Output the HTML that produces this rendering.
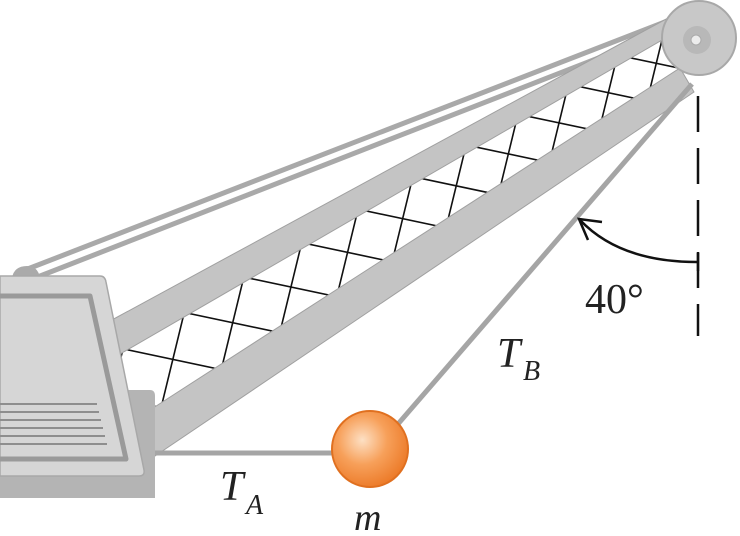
<!DOCTYPE html>
<html><head><style>
html,body{margin:0;padding:0;background:#fff;}
svg{display:block;}
text{font-family:"Liberation Serif",serif;fill:#222;}
</style></head><body>
<svg id="s" width="740" height="536" viewBox="0 0 740 536" xmlns="http://www.w3.org/2000/svg">
<defs>
<radialGradient id="ball" cx="0.4" cy="0.38" r="0.65">
<stop offset="0" stop-color="#fde0c4"/><stop offset="0.5" stop-color="#f7a05a"/><stop offset="1" stop-color="#ec7a28"/>
</radialGradient>
<clipPath id="lat"><polygon points="100,364 662,40 680,68 140,416"/></clipPath>
</defs>
<!-- cables -->
<line x1="25" y1="270" x2="670" y2="20" stroke="#a9a9a9" stroke-width="5"/>
<line x1="35" y1="278" x2="670" y2="30" stroke="#a9a9a9" stroke-width="5"/>
<!-- lattice -->
<g id="lattice" clip-path="url(#lat)" stroke="#111" stroke-width="1.6"></g>
<!-- upper bar -->
<polygon points="110,321 668,18 662,40 115,357" fill="#c4c4c4" stroke="#a0a0a0" stroke-width="1"/>
<!-- lower bar -->
<polygon points="150,410 680,68 694,92 155,456" fill="#c4c4c4" stroke="#a0a0a0" stroke-width="1"/>
<!-- TB rope -->
<line x1="692" y1="84" x2="398" y2="424" stroke="#a5a5a5" stroke-width="5"/>
<!-- TA rope -->
<line x1="150" y1="453" x2="335" y2="453" stroke="#a5a5a5" stroke-width="5"/>
<!-- pulley -->
<circle cx="699" cy="38" r="37" fill="#c8c8c8" stroke="#a8a8a8" stroke-width="2"/>
<circle cx="697" cy="40" r="14" fill="#b8b8b8"/>
<circle cx="696" cy="40" r="5" fill="#ececec" stroke="#aaa"/>
<!-- back box -->
<path d="M0,390 H150 Q155,390 155,396 V498 H0 Z" fill="#b4b4b4"/>
<!-- cabin top knob -->
<path d="M12,278 Q14,266 27,266 Q38,266 40,278 Z" fill="#aaa"/>
<!-- cabin -->
<path d="M0,276 H100 Q105,276 106,282 L144,470 Q145,476 139,476 H0 Z" fill="#d6d6d6" stroke="#a8a8a8" stroke-width="1.5"/>
<path d="M0,296 H90 L126,459 H0" fill="none" stroke="#9a9a9a" stroke-width="5" stroke-linejoin="round"/>
<g stroke="#8e8e8e" stroke-width="2">
<line x1="0" y1="404" x2="97" y2="404"/>
<line x1="0" y1="412" x2="99" y2="412"/>
<line x1="0" y1="420" x2="101" y2="420"/>
<line x1="0" y1="428" x2="103" y2="428"/>
<line x1="0" y1="436" x2="105" y2="436"/>
<line x1="0" y1="444" x2="107" y2="444"/>
</g>
<!-- ball -->
<circle cx="370" cy="449" r="38" fill="url(#ball)" stroke="#e07020" stroke-width="2"/>
<!-- dashed vertical -->
<line x1="698" y1="96" x2="698" y2="336" stroke="#111" stroke-width="2.5" stroke-dasharray="36,16"/>
<line x1="698" y1="253" x2="698" y2="271" stroke="#111" stroke-width="2.5"/>
<!-- arc arrow -->
<path d="M697,262 Q620,262 580,220" fill="none" stroke="#111" stroke-width="2.5"/>
<path d="M602,222 L579,219 L588,240" fill="none" stroke="#111" stroke-width="2.5"/>
<!-- labels -->
<text x="585" y="313" font-size="42">40°</text>
<text x="497" y="367" font-size="42" font-style="italic">T</text>
<text x="523" y="380" font-size="28" font-style="italic">B</text>
<text x="220" y="500" font-size="42" font-style="italic">T</text>
<text x="246" y="514" font-size="28" font-style="italic">A</text>
<text x="354" y="530" font-size="38" font-style="italic">m</text>
</svg>
<script>
var g=document.getElementById('lattice'),ns='http://www.w3.org/2000/svg';
function L(x1,y1,x2,y2){var l=document.createElementNS(ns,'line');l.setAttribute('x1',x1);l.setAttribute('y1',y1);l.setAttribute('x2',x2);l.setAttribute('y2',y2);g.appendChild(l);}
function ub(x){return 357+(x-115)*(40-357)/(662-115);}
function lt(x){return 410+(x-150)*(68-410)/(680-150);}
var sd=[19,-78],sh=[85,18];
var x=48;
while(x<720){
 var y=(ub(x)+lt(x))/2;
 L(x-sd[0]*1.2,y-sd[1]*1.2,x+sd[0]*1.2,y+sd[1]*1.2);
 L(x-sh[0]*1.2,y-sh[1]*1.2,x+sh[0]*1.2,y+sh[1]*1.2);
 x+=60-(x-168)*13/475;
}
</script>
</body></html>
